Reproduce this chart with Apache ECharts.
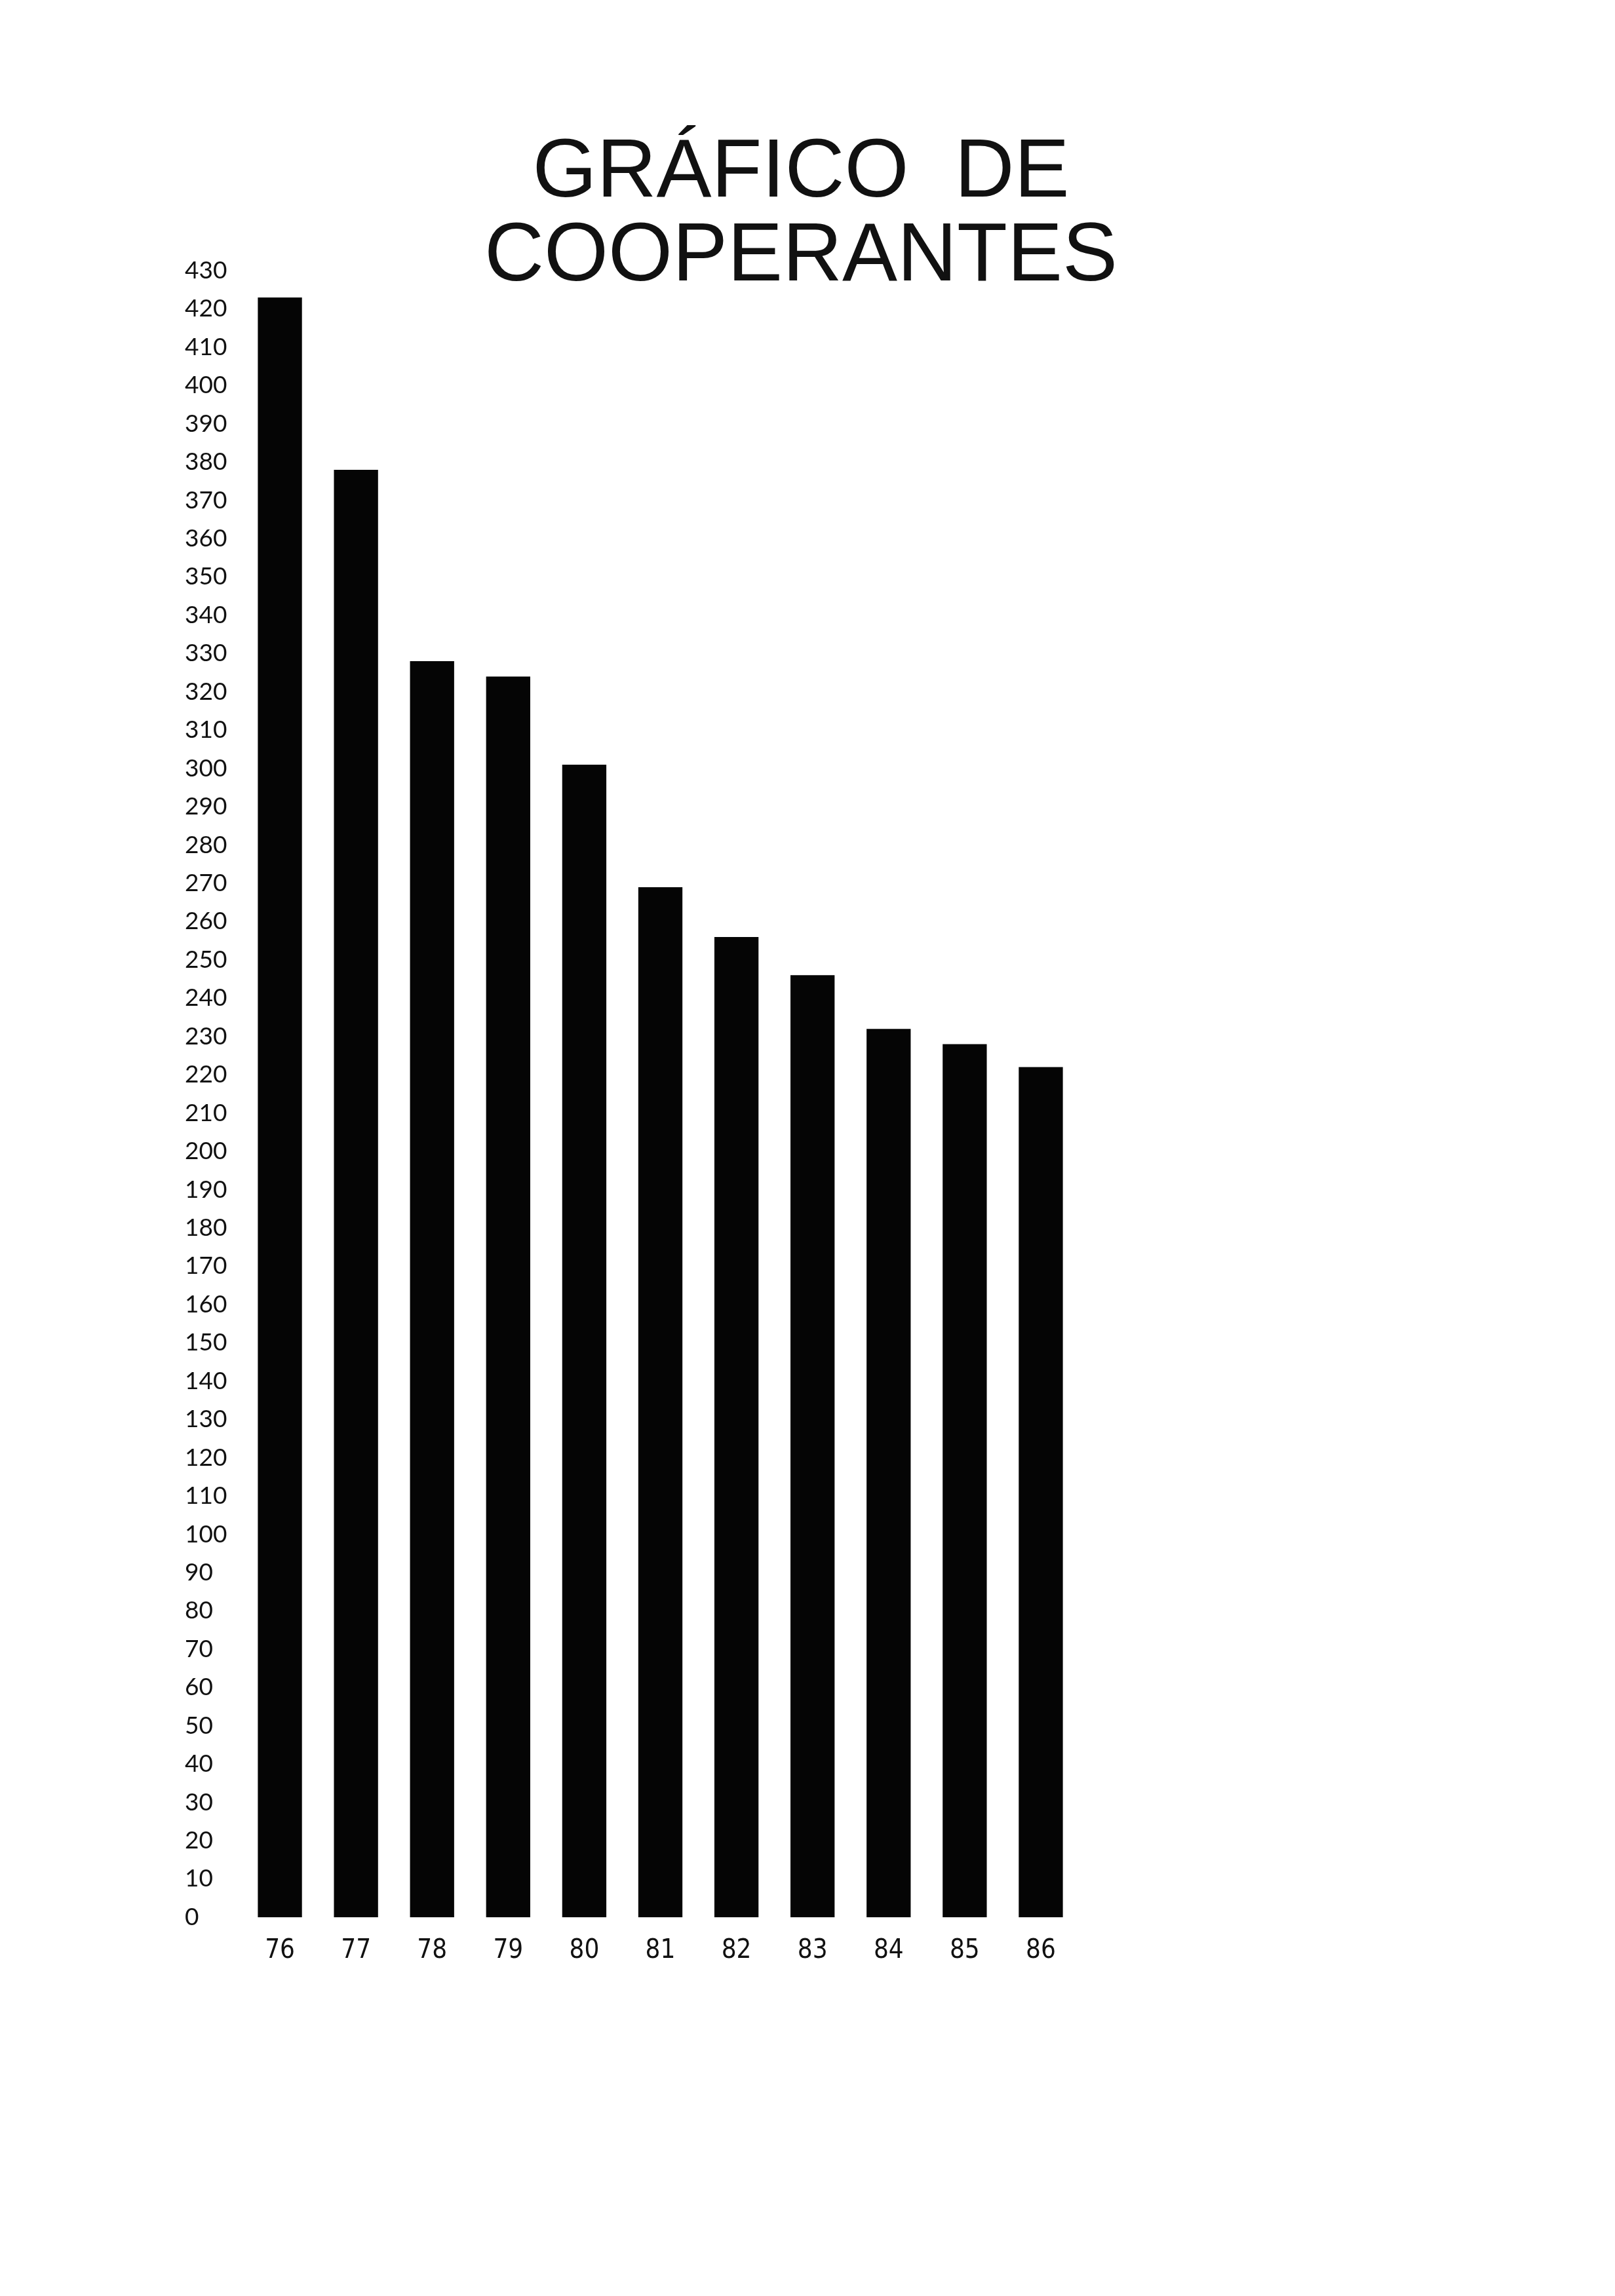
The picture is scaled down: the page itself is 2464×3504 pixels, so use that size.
<!DOCTYPE html>
<html>
<head>
<meta charset="utf-8">
<script src="https://cdn.jsdelivr.net/npm/echarts@6/dist/echarts.min.js"></script>
<style>
html,body{margin:0;padding:0;background:#fff;}
#chart{width:2464px;height:3504px;}
</style>
</head>
<body>
<div id="chart"></div>
<script>
const titleText = "GRÁFICO  DE\nCOOPERANTES";
const years = ["76","77","78","79","80","81","82","83","84","85","86"];
const cooperantes = [423, 378, 328, 324, 301, 269, 256, 246, 232, 228, 222];
const yMin = 0, yMax = 430, yStep = 10;

const chart = echarts.init(document.getElementById('chart'), null, {renderer:'canvas'});
chart.setOption({
  backgroundColor: '#ffffff',
  animation: false,
  title: {
    text: titleText,
    left: 1222,
    top: 201,
    textAlign: 'center',
    padding: 0,
    textStyle: {
      fontFamily: 'Liberation Sans',
      fontSize: 126,
      fontWeight: 'normal',
      color: '#111',
      lineHeight: 128
    }
  },
  grid: { left: 369, right: 818, top: 413, bottom: 578, containLabel: false },
  xAxis: {
    type: 'category',
    data: years,
    boundaryGap: true,
    axisLine: { show: false },
    axisTick: { show: false },
    axisLabel: {
      margin: 32,
      fontFamily: 'DejaVu Sans Condensed',
      fontSize: 40,
      color: '#111'
    }
  },
  yAxis: {
    type: 'value',
    min: yMin,
    max: yMax,
    interval: yStep,
    axisLine: { show: false },
    axisTick: { show: false },
    splitLine: { show: false },
    axisLabel: {
      align: 'left',
      margin: 87,
      fontFamily: 'Lato',
      fontSize: 37,
      color: '#111'
    }
  },
  series: [{
    type: 'bar',
    data: cooperantes,
    barWidth: '58%',
    itemStyle: { color: '#050505' }
  }]
});
</script>
</body>
</html>
